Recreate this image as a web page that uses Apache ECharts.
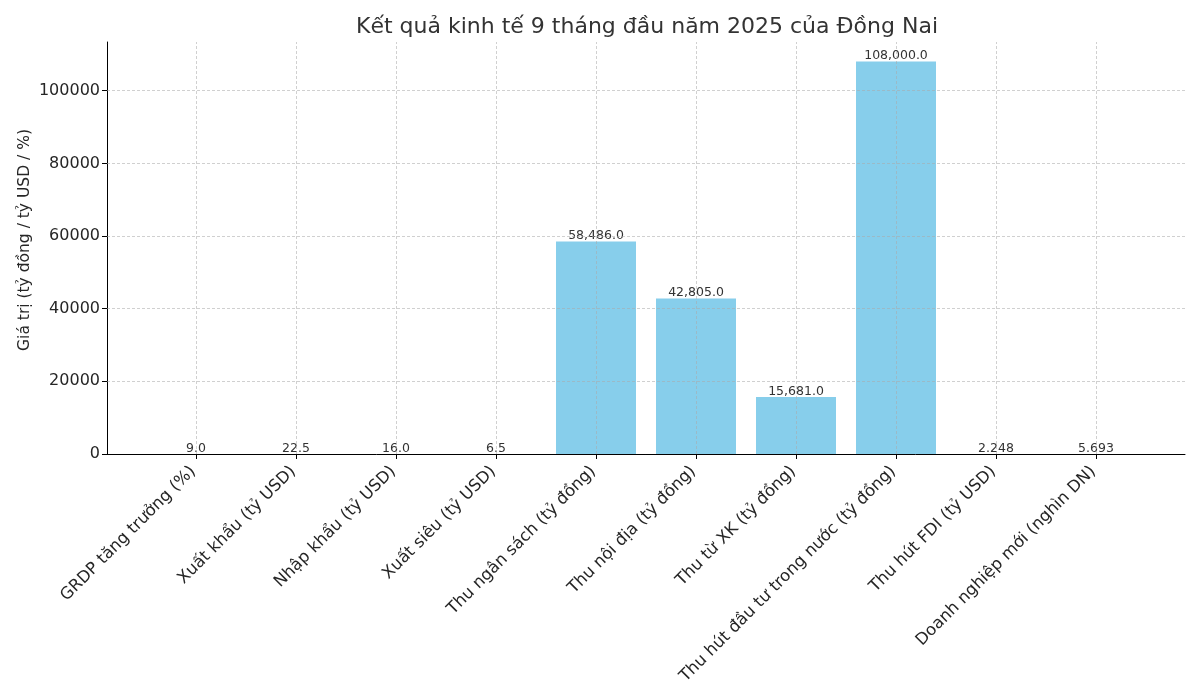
<!DOCTYPE html>
<html>
<head>
<meta charset="utf-8">
<script src="https://cdn.jsdelivr.net/npm/echarts@6/dist/echarts.min.js"></script>
<style>html,body{margin:0;padding:0;background:#fff}#c{width:1200px;height:700px}</style>
</head>
<body>
<div id="c"></div>
<script>
const titleText = 'Kết quả kinh tế 9 tháng đầu năm 2025 của Đồng Nai';
const yAxisName = 'Giá trị (tỷ đồng / tỷ USD / %)';
const categories = [
  'GRDP tăng trưởng (%)',
  'Xuất khẩu (tỷ USD)',
  'Nhập khẩu (tỷ USD)',
  'Xuất siêu (tỷ USD)',
  'Thu ngân sách (tỷ đồng)',
  'Thu nội địa (tỷ đồng)',
  'Thu từ XK (tỷ đồng)',
  'Thu hút đầu tư trong nước (tỷ đồng)',
  'Thu hút FDI (tỷ USD)',
  'Doanh nghiệp mới (nghìn DN)'
];
const values = [9.0, 22.5, 16.0, 6.5, 58486.0, 42805.0, 15681.0, 108000.0, 2.248, 5.693];
const yTicks = [0, 20000, 40000, 60000, 80000, 100000];

const FONT = 'DejaVu Sans';
const catIdx = categories.map((c, i) => i);

function fmt(v) {
  let s = String(v);
  if (s.indexOf('.') < 0) s += '.0';
  const parts = s.split('.');
  parts[0] = parts[0].replace(/\B(?=(\d{3})+(?!\d))/g, ',');
  return parts.join('.');
}

const gridLine = { type: [3, 2], color: 'rgba(170,170,170,0.55)', width: 1 };
const markData = catIdx.map(i => ({ xAxis: i, lineStyle: gridLine }))
  .concat(yTicks.filter(v => v > 0).map(v => ({ yAxis: v, lineStyle: gridLine })));

const chart = echarts.init(document.getElementById('c'), null, { renderer: 'canvas' });
chart.setOption({
  animation: false,
  backgroundColor: '#ffffff',
  textStyle: { fontFamily: FONT },
  title: {
    text: titleText,
    left: 642,
    textAlign: 'center',
    top: 11,
    textStyle: { fontFamily: FONT, fontSize: 22, fontWeight: 'normal', color: '#333333' }
  },
  grid: { left: 107, right: 15, top: 42, bottom: 246, containLabel: false },
  xAxis: {
    type: 'value',
    min: -0.89,
    max: 9.89,
    axisLine: { show: true, onZero: false, lineStyle: { color: '#000', width: 1 } },
    axisTick: { show: true, customValues: catIdx, length: 5, inside: false, lineStyle: { color: '#000' } },
    axisLabel: {
      customValues: catIdx,
      rotate: 45,
      margin: 12,
      padding: [0, 4, 0, 0],
      fontFamily: FONT,
      fontSize: 16.5,
      color: '#262626',
      formatter: v => categories[Math.round(v)]
    },
    splitLine: { show: false }
  },
  yAxis: {
    type: 'value',
    min: 0,
    max: 113400,
    name: yAxisName,
    nameLocation: 'middle',
    nameGap: 74,
    nameMoveOverlap: false,
    nameTextStyle: { fontFamily: FONT, fontSize: 15.5, color: '#262626', padding: [0, 0, 0, 16] },
    axisLine: { show: true, onZero: false, lineStyle: { color: '#000', width: 1 } },
    axisTick: { show: true, customValues: yTicks, length: 5, lineStyle: { color: '#000' } },
    axisLabel: {
      customValues: yTicks,
      margin: 7,
      fontFamily: FONT,
      fontSize: 16,
      color: '#262626',
      formatter: v => String(Math.round(v))
    },
    splitLine: { show: false }
  },
  series: [{
    type: 'bar',
    data: values.map((v, i) => [i, v]),
    barWidth: 80,
    itemStyle: { color: '#87CEEB' },
    label: {
      show: true,
      position: 'top',
      distance: -1,
      fontFamily: FONT,
      fontSize: 12.5,
      color: '#333333',
      formatter: p => fmt(p.value[1])
    },
    markLine: {
      silent: true,
      symbol: ['none', 'none'],
      label: { show: false },
      animation: false,
      data: markData
    }
  }]
});
</script>
</body>
</html>
